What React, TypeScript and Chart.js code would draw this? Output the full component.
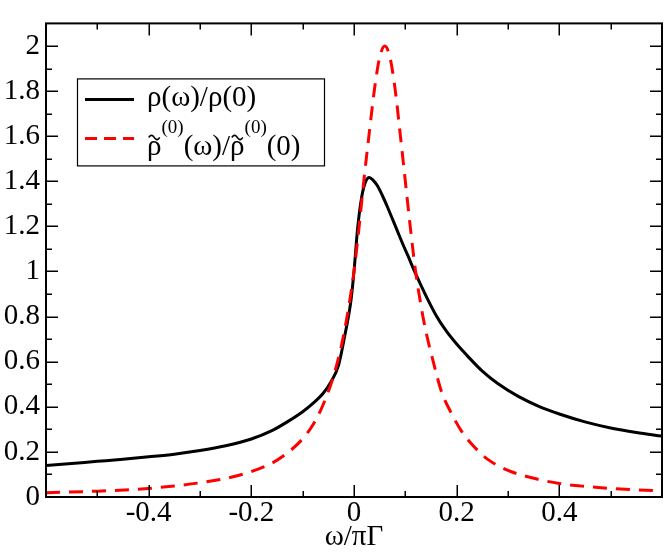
import React, { useEffect, useRef } from "react";
import { Chart, registerables } from "chart.js";

Chart.register(...registerables);

// ---- data ----
const rhoX = [-0.6, -0.55, -0.5, -0.45, -0.4, -0.35, -0.3, -0.25, -0.2, -0.16, -0.13, -0.1, -0.08, -0.06, -0.045, -0.03, -0.018, -0.006, 0, 0.007, 0.015, 0.022, 0.03, 0.037, 0.045, 0.055, 0.065, 0.075, 0.085, 0.095, 0.105, 0.12, 0.14, 0.16, 0.18, 0.2, 0.22, 0.25, 0.28, 0.32, 0.36, 0.4, 0.45, 0.5, 0.55, 0.6];
const rhoY = [0.14, 0.149, 0.158, 0.167, 0.178, 0.19, 0.206, 0.227, 0.257, 0.294, 0.333, 0.378, 0.415, 0.46, 0.51, 0.585, 0.715, 0.87, 1.0, 1.19, 1.33, 1.395, 1.417, 1.405, 1.382, 1.338, 1.287, 1.232, 1.177, 1.122, 1.07, 0.99, 0.893, 0.805, 0.735, 0.678, 0.628, 0.558, 0.503, 0.446, 0.402, 0.368, 0.333, 0.306, 0.286, 0.27];

const rho0X = [-0.6, -0.5, -0.4, -0.35, -0.3, -0.25, -0.2, -0.16, -0.13, -0.1, -0.08, -0.06, -0.04, -0.02, 0, 0.01, 0.02, 0.03, 0.04, 0.05, 0.06, 0.07, 0.08, 0.09, 0.1, 0.11, 0.12, 0.13, 0.14, 0.155, 0.17, 0.19, 0.21, 0.23, 0.26, 0.3, 0.35, 0.4, 0.45, 0.5, 0.55, 0.6];
const rho0Y = [0.019, 0.026, 0.038, 0.049, 0.063, 0.082, 0.113, 0.15, 0.195, 0.258, 0.32, 0.41, 0.535, 0.72, 1.0, 1.2, 1.42, 1.62, 1.81, 1.95, 2.0, 1.95, 1.81, 1.61, 1.4, 1.19, 1.0, 0.855, 0.735, 0.595, 0.47, 0.37, 0.29, 0.233, 0.168, 0.118, 0.083, 0.06, 0.047, 0.038, 0.032, 0.028];

const xMajorTicks = [-0.4, -0.2, 0, 0.2, 0.4];
const xMinorTicks = [-0.5, -0.3, -0.1, 0.1, 0.3, 0.5];
const yMajorTicks = [0, 0.2, 0.4, 0.6, 0.8, 1, 1.2, 1.4, 1.6, 1.8, 2];
const yMinorTicks = [0.1, 0.3, 0.5, 0.7, 0.9, 1.1, 1.3, 1.5, 1.7, 1.9];
const xTickLabels = ["-0.4", "-0.2", "0", "0.2", "0.4"];
const yTickLabels = ["0", "0.2", "0.4", "0.6", "0.8", "1", "1.2", "1.4", "1.6", "1.8", "2"];

const xTitle = "ω/πΓ";
// legend entries: pieces [text, kind] kind: "n" normal, "s" superscript, "t" normal with tilde above
const legend1: [string, string][] = [["ρ(ω)/ρ(0)", "n"]];
const legend2: [string, string][] = [
  ["ρ", "t"],
  ["(0)", "s"],
  ["(ω)/", "n"],
  ["ρ", "t"],
  ["(0)", "s"],
  ["(0)", "n"],
];

const FAMILY = '"Liberation Serif"';
const MAIN = 29;
const SUP = 19;

const framePlugin = {
  id: "frameTicks",
  afterDatasetsDraw(chart: any) {
    const { ctx, chartArea: a } = chart;
    const xs = chart.scales.x;
    const ys = chart.scales.y;
    ctx.save();
    ctx.strokeStyle = "#000";
    ctx.lineWidth = 1.5;
    const major = 12;
    const minor = 6;
    const drawX = (v: number, len: number) => {
      const p = Math.round(xs.getPixelForValue(v)) + 0.25;
      ctx.beginPath();
      ctx.moveTo(p, a.bottom);
      ctx.lineTo(p, a.bottom - len);
      ctx.moveTo(p, a.top);
      ctx.lineTo(p, a.top + len);
      ctx.stroke();
    };
    const drawY = (v: number, len: number) => {
      const p = Math.round(ys.getPixelForValue(v)) + 0.25;
      ctx.beginPath();
      ctx.moveTo(a.left, p);
      ctx.lineTo(a.left + len, p);
      ctx.moveTo(a.right, p);
      ctx.lineTo(a.right - len, p);
      ctx.stroke();
    };
    xMajorTicks.forEach((v) => drawX(v, major));
    xMinorTicks.forEach((v) => drawX(v, minor));
    yMajorTicks.forEach((v) => drawY(v, major));
    yMinorTicks.forEach((v) => drawY(v, minor));
    ctx.lineWidth = 2;
    ctx.strokeRect(a.left, a.top, a.right - a.left, a.bottom - a.top);
    ctx.restore();
  },
};

const legendPlugin = {
  id: "texLegend",
  afterDraw(chart: any) {
    const { ctx, chartArea: a } = chart;
    const bx = a.left + 31;
    const by = a.top + 55;
    const bw = 247;
    const bh = 87;
    ctx.save();
    ctx.fillStyle = "#fff";
    ctx.fillRect(bx, by, bw, bh);
    ctx.strokeStyle = "#000";
    ctx.lineWidth = 1.2;
    ctx.strokeRect(bx + 0.5, by + 0.5, bw, bh);

    const drawPieces = (pieces: [string, string][], x: number, base: number) => {
      let cx = x;
      pieces.forEach(([t, kind]) => {
        const sup = kind === "s";
        ctx.font = (sup ? SUP : MAIN) + "px " + FAMILY;
        ctx.fillStyle = "#000";
        ctx.textBaseline = "alphabetic";
        ctx.textAlign = "left";
        ctx.fillText(t, cx, sup ? base - 22 : base);
        const w = ctx.measureText(t).width;
        if (kind === "t") {
          const tx0 = cx + w * 0.12;
          const tx1 = cx + w * 0.88;
          const ty = base - MAIN * 0.62;
          const amp = 2.2;
          ctx.beginPath();
          ctx.lineWidth = 1.6;
          ctx.strokeStyle = "#000";
          const n = 16;
          for (let k = 0; k <= n; k++) {
            const f = k / n;
            const px = tx0 + (tx1 - tx0) * f;
            const py = ty - amp * Math.sin(f * 2 * Math.PI);
            if (k === 0) ctx.moveTo(px, py);
            else ctx.lineTo(px, py);
          }
          ctx.stroke();
        }
        cx += w;
      });
    };

    const l1 = by + 21;
    ctx.strokeStyle = "#000";
    ctx.lineWidth = 3;
    ctx.setLineDash([]);
    ctx.beginPath();
    ctx.moveTo(bx + 8, l1);
    ctx.lineTo(bx + 57, l1);
    ctx.stroke();
    drawPieces(legend1, bx + 70, by + 28);

    const l2 = by + 60;
    ctx.strokeStyle = "#ff0000";
    ctx.lineWidth = 3;
    ctx.setLineDash([12, 7]);
    ctx.beginPath();
    ctx.moveTo(bx + 8, l2);
    ctx.lineTo(bx + 57, l2);
    ctx.stroke();
    ctx.setLineDash([]);
    drawPieces(legend2, bx + 70, by + 77);
    ctx.restore();
  },
};

export default function App() {
  const ref = useRef<HTMLCanvasElement | null>(null);
  useEffect(() => {
    if (!ref.current) return;
    const font = (size: number) => ({ family: FAMILY, size });
    const chart = new Chart(ref.current, {
      type: "line",
      data: {
        datasets: [
          {
            label: "rho",
            data: rhoX.map((x, i) => ({ x, y: rhoY[i] })),
            borderColor: "#000000",
            borderWidth: 3,
            pointRadius: 0,
            fill: false,
            cubicInterpolationMode: "monotone",
            order: 1,
          },
          {
            label: "rho0",
            data: rho0X.map((x, i) => ({ x, y: rho0Y[i] })),
            borderColor: "#ff0000",
            borderWidth: 3,
            borderDash: [14, 9],
            pointRadius: 0,
            fill: false,
            cubicInterpolationMode: "monotone",
            order: 0,
          },
        ],
      },
      options: {
        animation: false,
        responsive: false,
        devicePixelRatio: 1,
        layout: { padding: { top: 2, right: 2, left: 0, bottom: 0 } },
        plugins: { legend: { display: false }, tooltip: { enabled: false } },
        scales: {
          x: {
            type: "linear",
            min: -0.6,
            max: 0.6,
            afterBuildTicks: (s: any) => {
              s.ticks = xMajorTicks.map((val) => ({ value: val }));
            },
            afterFit: (s: any) => {
              s.height = 57;
            },
            grid: { display: false, drawTicks: false },
            border: { display: false },
            ticks: {
              color: "#000",
              font: font(MAIN),
              padding: -1,
              maxRotation: 0,
              callback: (val: any) => {
                const i = xMajorTicks.indexOf(val);
                return i >= 0 ? xTickLabels[i] : "";
              },
            },
            title: {
              display: true,
              text: xTitle,
              color: "#000",
              font: font(MAIN),
              padding: { top: 0, bottom: -1 },
            },
          },
          y: {
            type: "linear",
            min: 0,
            max: 2.1,
            afterBuildTicks: (s: any) => {
              s.ticks = yMajorTicks.map((val) => ({ value: val }));
            },
            afterFit: (s: any) => {
              s.width = 46;
            },
            grid: { display: false, drawTicks: false },
            border: { display: false },
            ticks: {
              color: "#000",
              font: font(MAIN),
              padding: 6,
              callback: (val: any) => {
                const i = yMajorTicks.indexOf(val);
                return i >= 0 ? yTickLabels[i] : "";
              },
            },
          },
        },
      },
      plugins: [framePlugin, legendPlugin],
    } as any);
    return () => chart.destroy();
  }, []);
  return (
    <div style={{ position: "fixed", left: 0, top: 0, width: 664, height: 554, background: "#fff" }}>
      <canvas ref={ref} width={664} height={554} style={{ display: "block", width: 664, height: 554 }} />
    </div>
  );
}
